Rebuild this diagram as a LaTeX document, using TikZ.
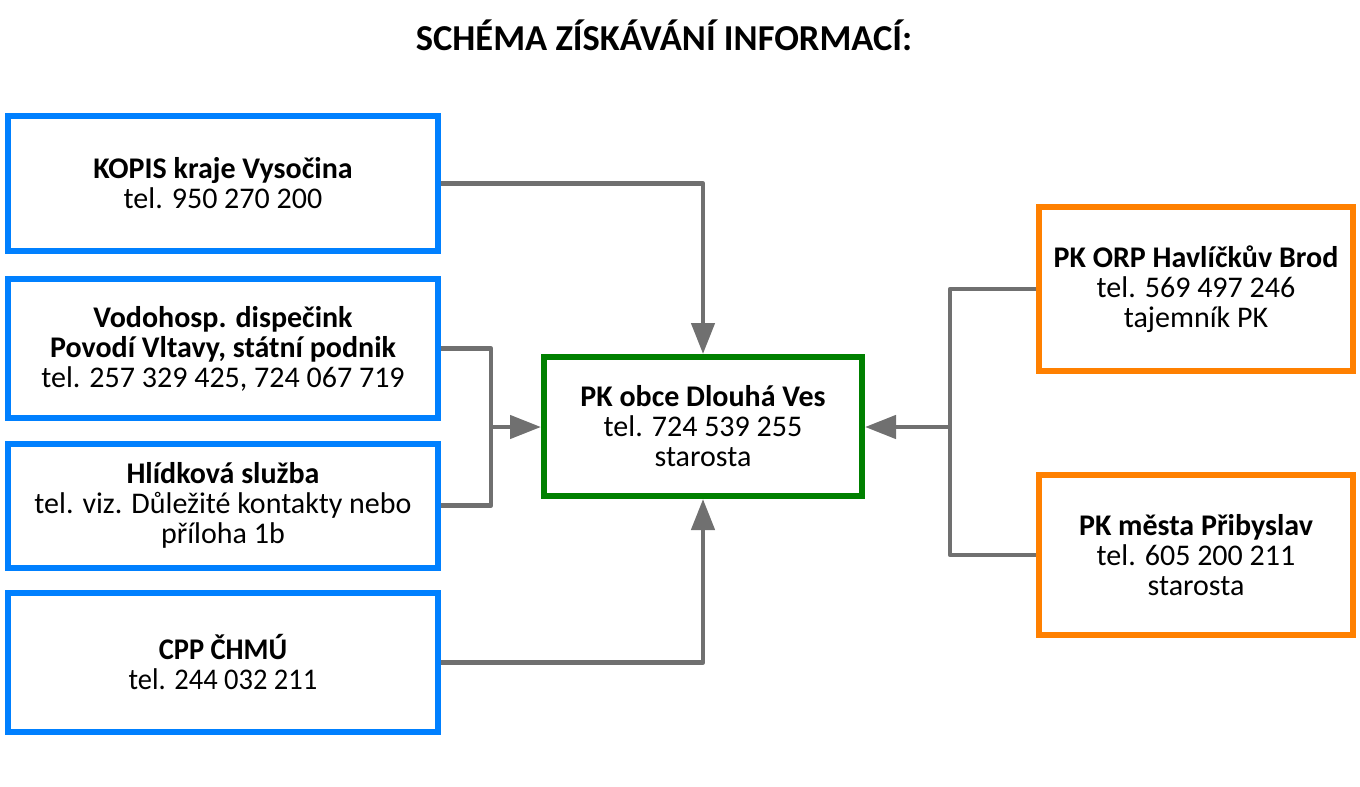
\documentclass[tikz,border=0pt]{standalone}
\usepackage{fontspec}
\setmainfont{Carlito}
\usetikzlibrary{arrows.meta}
\definecolor{bblue}{HTML}{0080FF}
\definecolor{ggreen}{HTML}{008000}
\definecolor{oorange}{HTML}{FF8000}
\definecolor{lgray}{HTML}{707070}
\begin{document}
\begin{tikzpicture}[x=1pt,y=-1pt,
  box/.style={draw, line width=6pt, align=center, inner sep=0pt,
    font=\fontsize{30}{30}\selectfont},
  bluebox/.style={box, draw=bblue, minimum width=430pt},
  greenbox/.style={box, draw=ggreen},
  orangebox/.style={box, draw=oorange, minimum width=314pt},
  conn/.style={draw=lgray, line width=4.5pt, line join=round},
  arr/.style={conn, -{Triangle[length=31pt, width=23pt]}}]
\useasboundingbox (0,0) rectangle (1360,787);
\node[anchor=base, font=\fontsize{36.5}{38}\selectfont\bfseries] (title) at (664,50) {SCHÉMA ZÍSKÁVÁNÍ INFORMACÍ:};
\node[bluebox, minimum height=135pt] (kopis) at (223,183.5) {\textbf{KOPIS kraje Vysočina}\\tel. 950 270 200};
\node[bluebox, minimum height=139pt] (vodo) at (223,348.5) {\textbf{Vodohosp. dispečink}\\\textbf{Povodí Vltavy, státní podnik}\\tel. 257 329 425, 724 067 719};
\node[bluebox, minimum height=124pt] (hlid) at (223,505.5) {\textbf{Hlídková služba}\\tel. viz. Důležité kontakty nebo\\příloha 1b};
\node[bluebox, minimum height=139pt] (cpp) at (223,662.5) {\scalebox{0.95}[1]{\textbf{CPP ČHMÚ}}\\\scalebox{0.95}[1]{tel. 244 032 211}};
\node[greenbox, minimum width=318pt, minimum height=139pt] (pk) at (703,426.5) {\textbf{PK obce Dlouhá Ves}\\tel. 724 539 255\\starosta};
\node[orangebox, minimum height=164pt] (orp) at (1196,289) {\textbf{PK ORP Havlíčkův Brod}\\tel. 569 497 246\\tajemník PK};
\node[orangebox, minimum height=160pt] (prib) at (1196,555) {\textbf{PK města Přibyslav}\\tel. 605 200 211\\starosta};
\coordinate (jl) at (491,427);
\coordinate (jr) at (950,427);
\draw[arr] (kopis.east) -| (pk.north);
\draw[arr] (cpp.east) -| (pk.south);
\draw[conn] (vodo.east) -| (jl) |- (hlid.east);
\draw[arr] (jl) -- (pk.west |- jl);
\draw[conn] (orp.west) -| (jr) |- (prib.west);
\draw[arr] (jr) -- (pk.east |- jr);
\end{tikzpicture}
\end{document}
